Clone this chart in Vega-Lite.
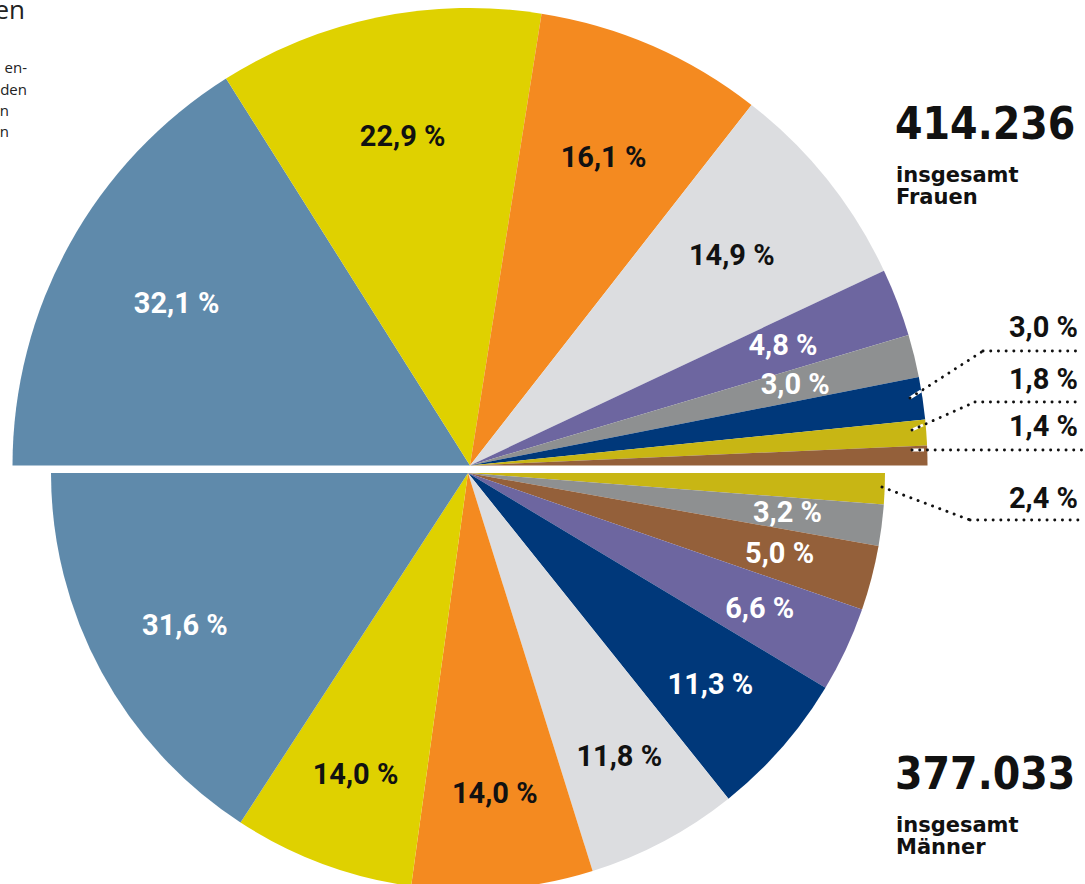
{
  "$schema": "https://vega.github.io/schema/vega-lite/v6.json",
  "width": 940,
  "height": 884,
  "autosize": {"type": "none"},
  "padding": {"left": 0, "top": 0, "right": 145, "bottom": 0},
  "background": "white",
  "config": {"view": {"stroke": null}},
  "resolve": {"scale": {"theta": "independent"}},
  "layer": [
    {
      "data": {"values": [
        {"gruppe": "A", "anteil": 32.1, "label": "32,1 %"},
        {"gruppe": "B", "anteil": 22.9, "label": "22,9 %"},
        {"gruppe": "C", "anteil": 16.1, "label": "16,1 %"},
        {"gruppe": "D", "anteil": 14.9, "label": "14,9 %"},
        {"gruppe": "E", "anteil": 4.8, "label": "4,8 %"},
        {"gruppe": "F", "anteil": 3.0, "label": "3,0 %"},
        {"gruppe": "G", "anteil": 3.0, "label": "3,0 %"},
        {"gruppe": "H", "anteil": 1.8, "label": "1,8 %"},
        {"gruppe": "I", "anteil": 1.4, "label": "1,4 %"}
      ]},
      "transform": [{"window": [{"op": "row_number", "as": "idx"}]}],
      "encoding": {
        "theta": {"field": "anteil", "type": "quantitative", "stack": true, "scale": {"range": [-1.5707963, 1.5707963]}},
        "color": {"field": "gruppe", "type": "nominal", "legend": null,
          "scale": {"domain": ["A","B","C","D","E","F","G","H","I"],
                    "range": ["#5f8aab","#dfd100","#f48a20","#dcdde0","#6d66a0","#8e9091","#00387a","#c8b614","#94603a"]}},
        "order": {"field": "idx", "type": "quantitative"}
      },
      "layer": [
        {"mark": {"type": "arc", "radius": 457.5, "yOffset": 23.5}},
        {"mark": {"type": "text", "radius": 335, "yOffset": 23.5, "font": "Roboto", "fontWeight": "bold", "fontSize": 29, "align": "center", "baseline": "middle"},
         "encoding": {
           "text": {"field": "label"},
           "color": {"condition": {"test": "indexof(['B','C','D'], datum.gruppe) >= 0", "value": "#111111"}, "value": "#ffffff"},
           "opacity": {"condition": {"test": "indexof(['G','H','I'], datum.gruppe) >= 0", "value": 0}, "value": 1}
         }}
      ]
    },
    {
      "data": {"values": [
        {"gruppe": "H", "anteil": 2.4, "label": "2,4 %"},
        {"gruppe": "F", "anteil": 3.2, "label": "3,2 %"},
        {"gruppe": "I", "anteil": 5.0, "label": "5,0 %"},
        {"gruppe": "E", "anteil": 6.6, "label": "6,6 %"},
        {"gruppe": "G", "anteil": 11.3, "label": "11,3 %"},
        {"gruppe": "D", "anteil": 11.8, "label": "11,8 %"},
        {"gruppe": "C", "anteil": 14.0, "label": "14,0 %"},
        {"gruppe": "B", "anteil": 14.0, "label": "14,0 %"},
        {"gruppe": "A", "anteil": 31.6, "label": "31,6 %"}
      ]},
      "transform": [{"window": [{"op": "row_number", "as": "idx"}]}],
      "encoding": {
        "theta": {"field": "anteil", "type": "quantitative", "stack": true, "scale": {"range": [1.5707963, 4.712389]}},
        "color": {"field": "gruppe", "type": "nominal", "legend": null},
        "order": {"field": "idx", "type": "quantitative"}
      },
      "layer": [
        {"mark": {"type": "arc", "radius": 417, "xOffset": -2, "yOffset": 31}},
        {"mark": {"type": "text", "radius": 322, "xOffset": -2, "yOffset": 31, "font": "Roboto", "fontWeight": "bold", "fontSize": 29, "align": "center", "baseline": "middle"},
         "encoding": {
           "text": {"field": "label"},
           "color": {"condition": {"test": "indexof(['B','C','D'], datum.gruppe) >= 0", "value": "#111111"}, "value": "#ffffff"},
           "opacity": {"condition": {"test": "datum.gruppe === 'H'", "value": 0}, "value": 1}
         }}
      ]
    },
    {"data": {"values": [{}]}, "mark": {"type": "text", "x": 895, "y": 139, "text": "414.236", "align": "left", "baseline": "alphabetic", "font": "DejaVu Sans Condensed, DejaVu Sans", "fontWeight": "bold", "fontSize": 44, "color": "#111111"}, "encoding": {}},
    {"data": {"values": [{}]}, "mark": {"type": "text", "x": 896, "y": 182, "text": ["insgesamt", "Frauen"], "lineHeight": 22, "align": "left", "baseline": "alphabetic", "font": "DejaVu Sans", "fontWeight": "bold", "fontSize": 21, "color": "#111111"}, "encoding": {}},
    {"data": {"values": [{}]}, "mark": {"type": "text", "x": 895, "y": 789, "text": "377.033", "align": "left", "baseline": "alphabetic", "font": "DejaVu Sans Condensed, DejaVu Sans", "fontWeight": "bold", "fontSize": 44, "color": "#111111"}, "encoding": {}},
    {"data": {"values": [{}]}, "mark": {"type": "text", "x": 896, "y": 832, "text": ["insgesamt", "Männer"], "lineHeight": 22, "align": "left", "baseline": "alphabetic", "font": "DejaVu Sans", "fontWeight": "bold", "fontSize": 21, "color": "#111111"}, "encoding": {}},
    {"data": {"values": [{}]}, "mark": {"type": "text", "x": 1078, "y": 337, "text": "3,0 %", "align": "right", "baseline": "alphabetic", "font": "Roboto", "fontWeight": "bold", "fontSize": 29, "color": "#111111"}, "encoding": {}},
    {"data": {"values": [{}]}, "mark": {"type": "text", "x": 1078, "y": 389, "text": "1,8 %", "align": "right", "baseline": "alphabetic", "font": "Roboto", "fontWeight": "bold", "fontSize": 29, "color": "#111111"}, "encoding": {}},
    {"data": {"values": [{}]}, "mark": {"type": "text", "x": 1078, "y": 436, "text": "1,4 %", "align": "right", "baseline": "alphabetic", "font": "Roboto", "fontWeight": "bold", "fontSize": 29, "color": "#111111"}, "encoding": {}},
    {"data": {"values": [{}]}, "mark": {"type": "text", "x": 1078, "y": 508, "text": "2,4 %", "align": "right", "baseline": "alphabetic", "font": "Roboto", "fontWeight": "bold", "fontSize": 29, "color": "#111111"}, "encoding": {}},
    {"data": {"values": [{}]}, "mark": {"type": "rule", "strokeWidth": 3, "color": "#ffffff"}, "encoding": {"x": {"value": 910}, "y": {"value": 398}, "x2": {"value": 921}, "y2": {"value": 391}}},
    {"data": {"values": [{}]}, "mark": {"type": "rule", "strokeWidth": 3, "color": "#ffffff"}, "encoding": {"x": {"value": 912}, "y": {"value": 430}, "x2": {"value": 923}, "y2": {"value": 425}}},
    {"data": {"values": [{}]}, "mark": {"type": "rule", "strokeWidth": 3, "color": "#ffffff"}, "encoding": {"x": {"value": 912}, "y": {"value": 450}, "x2": {"value": 924}, "y2": {"value": 450}}},
    {"data": {"values": [{}]}, "mark": {"type": "rule", "strokeDash": [0.1, 7.6], "strokeCap": "round", "strokeWidth": 2.9, "color": "#111111"}, "encoding": {"x": {"value": 910}, "y": {"value": 398}, "x2": {"value": 983}, "y2": {"value": 351}}},
    {"data": {"values": [{}]}, "mark": {"type": "rule", "strokeDash": [0.1, 7.6], "strokeCap": "round", "strokeWidth": 2.9, "color": "#111111"}, "encoding": {"x": {"value": 983}, "y": {"value": 351}, "x2": {"value": 1082}, "y2": {"value": 351}}},
    {"data": {"values": [{}]}, "mark": {"type": "rule", "strokeDash": [0.1, 7.6], "strokeCap": "round", "strokeWidth": 2.9, "color": "#111111"}, "encoding": {"x": {"value": 912}, "y": {"value": 430}, "x2": {"value": 975}, "y2": {"value": 402}}},
    {"data": {"values": [{}]}, "mark": {"type": "rule", "strokeDash": [0.1, 7.6], "strokeCap": "round", "strokeWidth": 2.9, "color": "#111111"}, "encoding": {"x": {"value": 975}, "y": {"value": 402}, "x2": {"value": 1082}, "y2": {"value": 402}}},
    {"data": {"values": [{}]}, "mark": {"type": "rule", "strokeDash": [0.1, 7.6], "strokeCap": "round", "strokeWidth": 2.9, "color": "#111111"}, "encoding": {"x": {"value": 912}, "y": {"value": 450}, "x2": {"value": 1082}, "y2": {"value": 450}}},
    {"data": {"values": [{}]}, "mark": {"type": "rule", "strokeDash": [0.1, 7.6], "strokeCap": "round", "strokeWidth": 2.9, "color": "#111111"}, "encoding": {"x": {"value": 882}, "y": {"value": 487}, "x2": {"value": 970}, "y2": {"value": 520}}},
    {"data": {"values": [{}]}, "mark": {"type": "rule", "strokeDash": [0.1, 7.6], "strokeCap": "round", "strokeWidth": 2.9, "color": "#111111"}, "encoding": {"x": {"value": 970}, "y": {"value": 520}, "x2": {"value": 1082}, "y2": {"value": 520}}},
    {"data": {"values": [{}]}, "mark": {"type": "text", "x": 25, "y": 19, "text": "en", "align": "right", "baseline": "alphabetic", "font": "Open Sans", "fontSize": 26, "color": "#222222"}, "encoding": {}},
    {"data": {"values": [{}]}, "mark": {"type": "text", "x": 27, "y": 73, "text": "en-", "align": "right", "baseline": "alphabetic", "font": "Open Sans", "fontSize": 15, "color": "#222222"}, "encoding": {}},
    {"data": {"values": [{}]}, "mark": {"type": "text", "x": 27, "y": 95, "text": "den", "align": "right", "baseline": "alphabetic", "font": "Open Sans", "fontSize": 15, "color": "#222222"}, "encoding": {}},
    {"data": {"values": [{}]}, "mark": {"type": "text", "x": 9, "y": 116, "text": "n", "align": "right", "baseline": "alphabetic", "font": "Open Sans", "fontSize": 15, "color": "#222222"}, "encoding": {}},
    {"data": {"values": [{}]}, "mark": {"type": "text", "x": 9, "y": 137, "text": "n", "align": "right", "baseline": "alphabetic", "font": "Open Sans", "fontSize": 15, "color": "#222222"}, "encoding": {}}
  ]
}
